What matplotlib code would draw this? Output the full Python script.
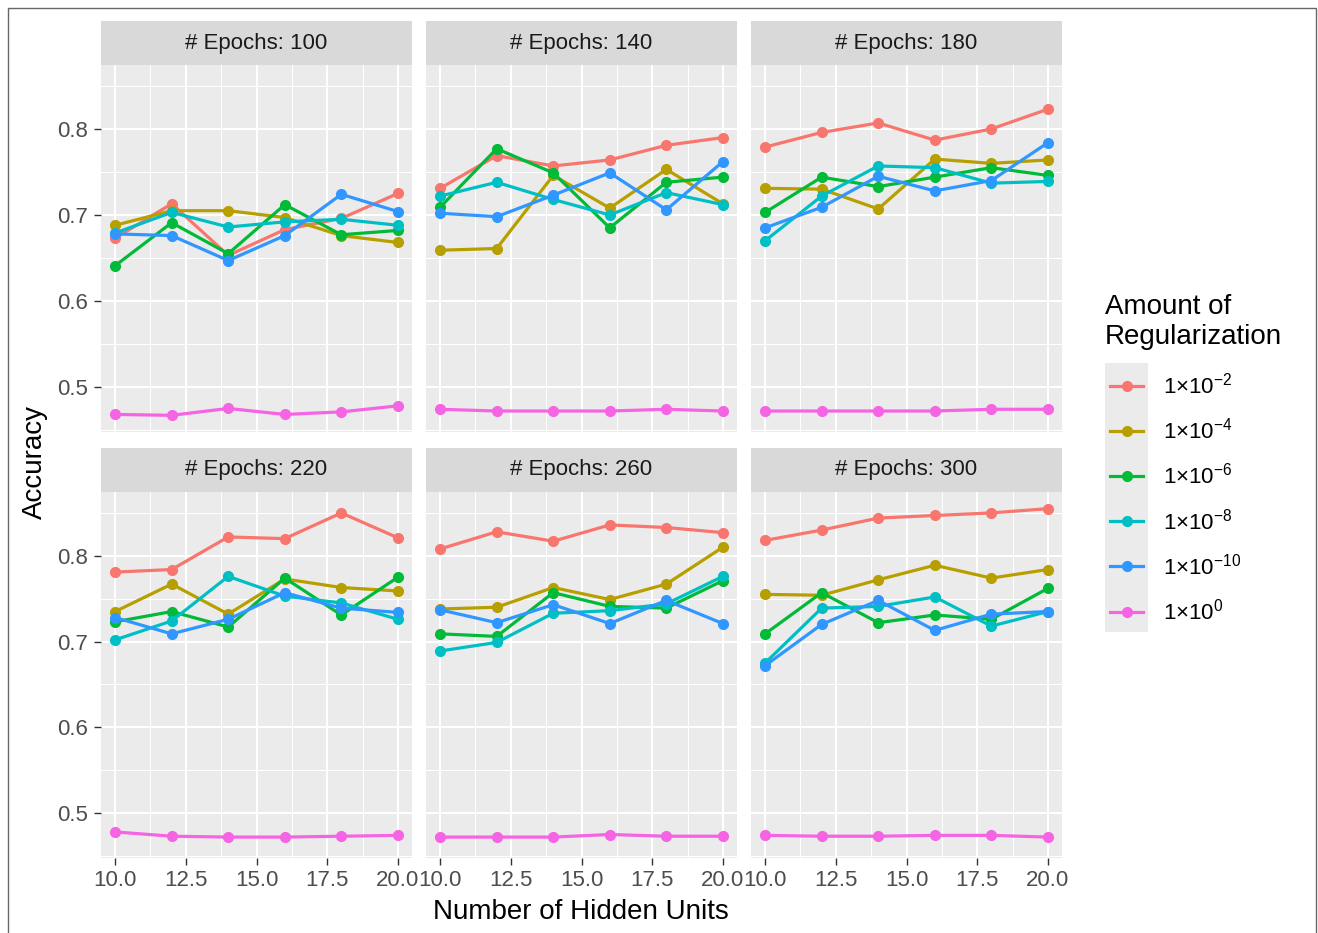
import numpy as np
import matplotlib
matplotlib.use("Agg")
import matplotlib.pyplot as plt
from matplotlib.lines import Line2D
from matplotlib.patches import Rectangle

plt.rcParams['font.family'] = ['Liberation Sans', 'DejaVu Sans']
plt.rcParams['mathtext.fontset'] = 'custom'
plt.rcParams['mathtext.rm'] = 'Liberation Sans'
plt.rcParams['mathtext.default'] = 'regular'

# data
hidden = [10, 12, 14, 16, 18, 20]
epochs = [100, 140, 180, 220, 260, 300]
reg_labels = ['1×10$^{-2}$', '1×10$^{-4}$', '1×10$^{-6}$',
              '1×10$^{-8}$', '1×10$^{-10}$', '1×10$^{0}$']
colors = ['#F8766D', '#B79F00', '#00BA38', '#00BFC4', '#2F97FF', '#F564E3']

# rows follow reg_labels order
acc_100 = [[0.673, 0.713, 0.653, 0.683, 0.696, 0.725],
           [0.688, 0.705, 0.705, 0.697, 0.676, 0.668],
           [0.641, 0.691, 0.655, 0.712, 0.677, 0.682],
           [0.679, 0.703, 0.686, 0.692, 0.695, 0.688],
           [0.678, 0.676, 0.647, 0.676, 0.724, 0.704],
           [0.468, 0.467, 0.475, 0.468, 0.471, 0.478]]
acc_140 = [[0.731, 0.769, 0.757, 0.764, 0.781, 0.790],
           [0.659, 0.661, 0.746, 0.708, 0.753, 0.713],
           [0.709, 0.777, 0.749, 0.685, 0.738, 0.744],
           [0.722, 0.738, 0.718, 0.700, 0.726, 0.712],
           [0.702, 0.698, 0.723, 0.749, 0.706, 0.762],
           [0.474, 0.472, 0.472, 0.472, 0.474, 0.472]]
acc_180 = [[0.779, 0.796, 0.807, 0.787, 0.800, 0.823],
           [0.731, 0.730, 0.707, 0.765, 0.760, 0.764],
           [0.703, 0.744, 0.733, 0.744, 0.755, 0.746],
           [0.670, 0.722, 0.757, 0.755, 0.737, 0.739],
           [0.685, 0.709, 0.745, 0.728, 0.740, 0.784],
           [0.472, 0.472, 0.472, 0.472, 0.474, 0.474]]
acc_220 = [[0.781, 0.784, 0.822, 0.820, 0.850, 0.821],
           [0.735, 0.767, 0.732, 0.773, 0.763, 0.759],
           [0.723, 0.735, 0.717, 0.774, 0.731, 0.775],
           [0.702, 0.724, 0.776, 0.753, 0.745, 0.726],
           [0.728, 0.709, 0.726, 0.757, 0.739, 0.734],
           [0.478, 0.473, 0.472, 0.472, 0.473, 0.474]]
acc_260 = [[0.808, 0.828, 0.817, 0.836, 0.833, 0.827],
           [0.738, 0.740, 0.763, 0.749, 0.767, 0.810],
           [0.709, 0.706, 0.757, 0.741, 0.739, 0.771],
           [0.689, 0.699, 0.733, 0.736, 0.744, 0.776],
           [0.737, 0.722, 0.743, 0.721, 0.748, 0.721],
           [0.472, 0.472, 0.472, 0.475, 0.473, 0.473]]
acc_300 = [[0.818, 0.830, 0.844, 0.847, 0.850, 0.855],
           [0.755, 0.754, 0.772, 0.789, 0.774, 0.784],
           [0.709, 0.757, 0.722, 0.731, 0.726, 0.762],
           [0.675, 0.739, 0.741, 0.752, 0.718, 0.735],
           [0.672, 0.720, 0.748, 0.713, 0.732, 0.735],
           [0.474, 0.473, 0.473, 0.474, 0.474, 0.472]]
panels = [acc_100, acc_140, acc_180, acc_220, acc_260, acc_300]

W, H = 1318, 933
fig = plt.figure(figsize=(W / 100, H / 100), dpi=100)

def box(x0, y0, x1, y1):
    # pixel box (top-left origin) -> figure fraction rect
    return [x0 / W, 1 - y1 / H, (x1 - x0) / W, (y1 - y0) / H]

# shared scale with ggplot-like 5% expansion
allv = np.array(panels).ravel()
rng = allv.max() - allv.min()
ylim = (allv.min() - 0.05 * rng, allv.max() + 0.05 * rng)
xlim = (9.5, 20.5)

col_x = [101, 426, 751]
row_y = [(21, 65, 432), (448, 492, 858)]
pw = 311

for k, data in enumerate(panels):
    r, c = divmod(k, 3)
    x0 = col_x[c]
    st, top, bot = row_y[r]
    ax = fig.add_axes(box(x0, top, x0 + pw, bot))
    ax.set_facecolor('#EBEBEB')
    for s in ax.spines.values():
        s.set_visible(False)
    ax.set_xlim(*xlim)
    ax.set_ylim(*ylim)
    ax.set_xticks([10, 12.5, 15, 17.5, 20])
    ax.set_xticks([11.25, 13.75, 16.25, 18.75], minor=True)
    ax.set_yticks([0.5, 0.6, 0.7, 0.8])
    ax.set_yticks([0.45, 0.55, 0.65, 0.75, 0.85], minor=True)
    ax.grid(which='major', color='white', lw=1.5)
    ax.grid(which='minor', color='white', lw=0.75)
    ax.set_axisbelow(True)
    ax.tick_params(which='minor', length=0)
    ax.tick_params(which='major', length=5, width=1, color='#333333',
                   labelsize=16, labelcolor='#4D4D4D', pad=4)
    ax.set_xticklabels(['10.0', '12.5', '15.0', '17.5', '20.0'])
    ax.set_yticklabels(['0.5', '0.6', '0.7', '0.8'])
    if c != 0:
        ax.tick_params(axis='y', left=False, labelleft=False)
    if r != 1:
        ax.tick_params(axis='x', bottom=False, labelbottom=False)
    for vals, col in zip(data, colors):
        ax.plot(hidden, vals, color=col, lw=2.3, marker='o', ms=7,
                solid_capstyle='butt', zorder=3)

    sax = fig.add_axes(box(x0, st, x0 + pw, top))
    sax.set_facecolor('#D9D9D9')
    sax.set_xticks([])
    sax.set_yticks([])
    for s in sax.spines.values():
        s.set_visible(False)
    sax.text(0.5, 0.5, f'# Epochs: {epochs[k]}', ha='center', va='center',
             fontsize=16, color='#1A1A1A', transform=sax.transAxes)

fig.text(581 / W, 1 - 912 / H, 'Number of Hidden Units', ha='center',
         va='center', fontsize=20)
fig.text(35 / W, 1 - 462 / H, 'Accuracy', ha='center', va='center',
         fontsize=20, rotation=90)

# legend
fig.text(1105 / W, 1 - 322 / H, 'Amount of\nRegularization', ha='left',
         va='center', fontsize=20, linespacing=1.2)
lax = fig.add_axes(box(1105, 363, 1148, 632))
lax.set_xlim(1105, 1148)
lax.set_ylim(632, 363)
lax.axis('off')
lax.add_patch(Rectangle((1105, 363), 43, 269, color='#EBEBEB', zorder=0))
for i, (lab, col) in enumerate(zip(reg_labels, colors)):
    y = 385.5 + i * 45.2
    lax.add_line(Line2D([1110, 1143], [y, y], color=col, lw=2.3))
    lax.plot([1126.5], [y], marker='o', ms=7, color=col)
    fig.text(1163 / W, 1 - y / H, lab, ha='left', va='center', fontsize=16)

# outer frame
fig.add_artist(Rectangle((8 / W, -0.01), (1316 - 8) / W, 1.01 - 8 / H,
                         transform=fig.transFigure, fill=False,
                         edgecolor='#666666', lw=1))

fig.savefig('out.png', dpi=100)
